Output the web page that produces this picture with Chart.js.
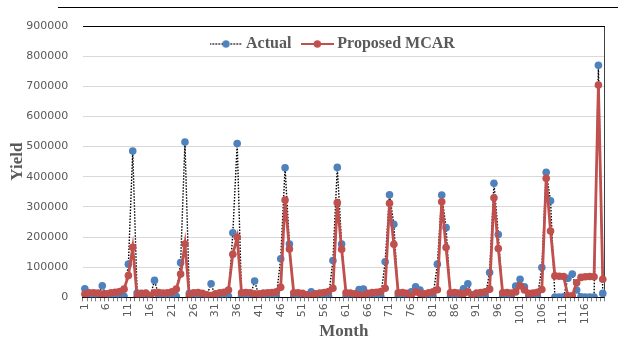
<!DOCTYPE html>
<html>
<head>
<meta charset="utf-8">
<script src="https://cdn.jsdelivr.net/npm/chart.js@4/dist/chart.umd.min.js"></script>
<style>
  html, body { margin: 0; padding: 0; background: #ffffff; }
  #wrap { position: relative; width: 618px; height: 338px; }
  canvas { position: absolute; left: 0; top: 0; }
</style>
</head>
<body>
<div id="wrap">
  <canvas id="c" width="618" height="338"></canvas>
</div>
<script>
// Categories (months 1..120)
const months = Array.from({ length: 120 }, (_, i) => String(i + 1));

// Actual yield
const actual = [
  28000, 2000, 2000, 3000, 38000, 2000, 1000, 1000, 2000, 3000,
  110000, 485000, 14000, 3000, 2000, 2000, 56000, 3000, 2000, 1000,
  2000, 3000, 115000, 515000, 13000, 3000, 2000, 3000, 6000, 45000,
  2000, 1000, 2000, 3000, 214000, 510000, 3000, 2000, 3000, 54000,
  4000, 2000, 1000, 2000, 3000, 128000, 430000, 177000, 3000, 2000,
  3000, 6000, 18000, 4000, 2000, 2000, 3000, 122000, 431000, 177000,
  2000, 1000, 4000, 26000, 27000, 4000, 2000, 1000, 3000, 118000,
  340000, 242000, 3000, 2000, 2000, 18000, 35000, 24000, 4000, 2000,
  3000, 110000, 339000, 231000, 3000, 2000, 4000, 28000, 45000, 8000,
  2000, 1000, 3000, 82000, 378000, 208000, 3000, 2000, 4000, 37000,
  60000, 35000, 4000, 2000, 3000, 99000, 415000, 320000, 1000, 1000,
  2000, 63000, 77000, 24000, 2000, 1000, 1000, 1000, 770000, 13000
];

// Proposed MCAR yield
const mcar = [
  11000, 15000, 15000, 14000, 11000, 12000, 15000, 17000, 19000, 27000,
  72000, 166000, 2000, 13000, 14000, 7000, 15000, 16000, 14000, 15000,
  18000, 27000, 77000, 177000, 3000, 15000, 16000, 13000, 8000, 6000,
  12000, 15000, 17000, 24000, 143000, 199000, 15000, 16000, 15000, 12000,
  12000, 14000, 15000, 16000, 18000, 33000, 323000, 160000, 15000, 15000,
  13000, 8000, 5000, 12000, 14000, 16000, 19000, 30000, 314000, 159000,
  15000, 14000, 12000, 8000, 6000, 13000, 16000, 17000, 19000, 30000,
  312000, 176000, 15000, 16000, 13000, 2000, 18000, 13000, 12000, 15000,
  18000, 25000, 317000, 165000, 15000, 16000, 14000, 12000, 18000, 3000,
  14000, 16000, 18000, 27000, 330000, 162000, 15000, 16000, 14000, 18000,
  38000, 24000, 13000, 14000, 17000, 26000, 395000, 220000, 71000, 70000,
  69000, 5000, 5000, 48000, 66000, 68000, 69000, 68000, 704000, 60000
];

const seriesNames = ['Actual', 'Proposed MCAR'];
const yTicks = [0, 100000, 200000, 300000, 400000, 500000, 600000, 700000, 800000, 900000];

const BLUE = '#4F81BD';
const RED = '#C0504D';
const GREY = '#595959';
const SERIF = "'Liberation Serif', 'Times New Roman', serif";
const SANS = "'DejaVu Sans', Verdana, sans-serif";

function makeSample(dotted, lineColor, lineWidth, dotColor) {
  const c = document.createElement('canvas');
  c.width = 33; c.height = 10;
  const g = c.getContext('2d');
  g.strokeStyle = lineColor;
  g.lineWidth = lineWidth;
  if (dotted) g.setLineDash([1.5, 1.5]);
  g.beginPath(); g.moveTo(0, 5); g.lineTo(33, 5); g.stroke();
  g.setLineDash([]);
  g.fillStyle = dotColor;
  g.beginPath(); g.arc(16.5, 5, 3.7, 0, Math.PI * 2); g.fill();
  return c;
}
const samples = [makeSample(true, '#000000', 1.4, BLUE), makeSample(false, RED, 2.2, RED)];

// Places the legend inside the plot area, under the top border
const legendMover = {
  id: 'legendMover',
  afterLayout(chart) {
    const l = chart.legend;
    if (!l) return;
    const pad = l.options.labels.padding;
    l.left = 214 - pad;
    l.right = 612;
    l.top = 44 - pad - 8;
    l.bottom = l.top + 16 + 2 * pad;
    l.width = l.right - l.left;
    l.height = l.bottom - l.top;
  }
};

// Frame lines: outer top line and the plot-area top border
const frameLine = {
  id: 'frameLine',
  afterDraw(chart) {
    const g = chart.ctx;
    const a = chart.chartArea;
    g.save();
    g.fillStyle = '#000000';
    g.fillRect(58, 7, 560, 1);
    g.fillRect(Math.round(a.left), Math.round(a.top), Math.round(a.right - a.left), 1);
    g.restore();
  }
};

const yGridColors = yTicks.map((v, i) => (i === yTicks.length - 1 ? '#000000' : '#d9d9d9'));

new Chart(document.getElementById('c'), {
  type: 'line',
  data: {
    labels: months,
    datasets: [
      {
        label: seriesNames[0], data: actual,
        borderColor: '#000000', borderWidth: 1.4, borderDash: [1.5, 1.5],
        pointRadius: 3.8, pointBackgroundColor: BLUE, pointBorderColor: BLUE, pointBorderWidth: 0,
        tension: 0, order: 2
      },
      {
        label: seriesNames[1], data: mcar,
        borderColor: RED, borderWidth: 2.8,
        pointRadius: 3.8, pointBackgroundColor: RED, pointBorderColor: RED, pointBorderWidth: 0,
        tension: 0, order: 1
      }
    ]
  },
  options: {
    responsive: false, animation: false, devicePixelRatio: 1,
    layout: { padding: { left: 4, right: 9.2, top: 6, bottom: 0 } },
    plugins: {
      tooltip: { enabled: false },
      legend: {
        display: true, position: 'top', align: 'start', maxHeight: 20,
        labels: {
          usePointStyle: true, pointStyleWidth: 24, padding: 14, color: GREY,
          font: { family: SERIF, size: 16, weight: 'bold' },
          sort(a, b) { return a.datasetIndex - b.datasetIndex; },
          generateLabels(chart) {
            const items = Chart.defaults.plugins.legend.labels.generateLabels(chart);
            items.forEach(it => { it.pointStyle = samples[it.datasetIndex]; });
            return items;
          }
        }
      }
    },
    scales: {
      x: {
        type: 'category', offset: true,
        grid: { offset: true, drawOnChartArea: false, drawTicks: true, tickLength: 4, color: '#7f7f7f' },
        border: { display: true, color: '#000000', width: 1 },
        ticks: {
          autoSkip: false, maxRotation: 90, minRotation: 90, padding: 2, color: GREY,
          font: { family: SANS, size: 11 },
          callback(val, idx) { return idx % 5 === 0 ? months[idx] : ''; }
        },
        title: {
          display: true, text: 'Month', color: GREY,
          font: { family: SERIF, size: 17, weight: 'bold', lineHeight: 1 },
          padding: { top: -3.3, bottom: -2 }
        }
      },
      y: {
        type: 'linear', min: 0, max: 900000,
        afterBuildTicks(scale) { scale.ticks = yTicks.map(v => ({ value: v })); },
        grid: {
          drawTicks: false,
          color: yGridColors,
          lineWidth: 1
        },
        border: { display: false },
        ticks: {
          padding: 14.4, color: GREY, font: { family: SANS, size: 11 },
          callback(v) { return String(v); }
        },
        title: {
          display: true, text: 'Yield', color: GREY,
          font: { family: SERIF, size: 17, weight: 'bold', lineHeight: 1 },
          padding: { top: 5.5, bottom: -14.6 }
        }
      },
      y2: {
        type: 'linear', position: 'right', display: true, min: 0, max: 900000,
        grid: { display: false, drawTicks: false },
        ticks: { display: false },
        border: { display: true, color: '#404040', width: 1 }
      }
    }
  },
  plugins: [legendMover, frameLine]
});
</script>
</body>
</html>
